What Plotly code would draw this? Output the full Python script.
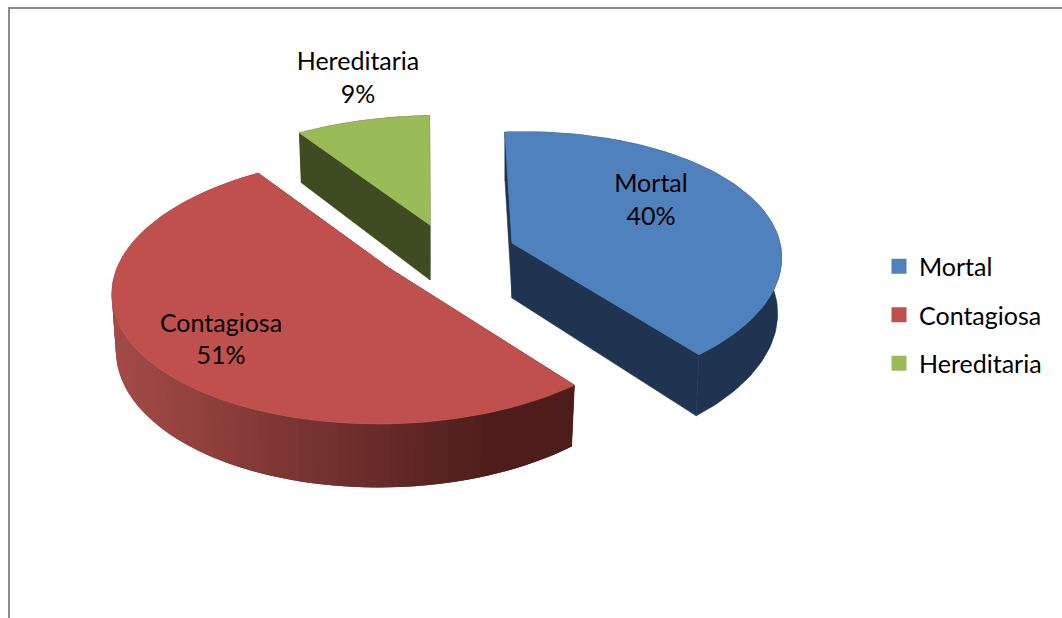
import numpy as np
import plotly.graph_objects as go

# ---- data ----
categories = ["Mortal", "Contagiosa", "Hereditaria"]
values = [40, 51, 9]

# ---- styling / geometry ----
top_colors = ["#4f81bd", "#c0504d", "#9bbb59"]
wall_colors = ["#1f3450", None, "#3f4b20"]
red_wall_light = (163, 74, 71)
red_wall_dark = (77, 29, 27)
centers = [(512, 243), (389, 268), (430, 225)]
scales = [1.0, 1.015, 0.985]
x_scales = [1.0, 1.0, 1.04]
rotations = [-3.0, -1.0, -1.0]
shears = [-0.10, -0.07, -0.09]
label_pos = [(651, 202), (221, 341.5), (358, 80)]
START = -1.5
RX, RY, P = 268.0, 129.0, 0.16
DEPTH, KX, KY = 55.0, 0.985, 1.055
FONT = "Lato"
FS = 25


def project(theta, c, sc, shear, xs):
    t = np.radians(theta)
    s = sc / (1 + P * np.cos(t))
    dy = -RY * np.cos(t) * s
    return c[0] + xs * RX * np.sin(t) * s + shear * dy, c[1] + dy


def drop(x, y, c):
    return c[0] + KX * (x - c[0]), c[1] + DEPTH + KY * (y - c[1])


def poly(fig, xs, ys, color, width=0.0):
    xs = list(xs) + [xs[0]]
    ys = list(ys) + [ys[0]]
    fig.add_trace(go.Scatter(x=xs, y=ys, mode="lines", fill="toself", fillcolor=color,
                             line=dict(color=color, width=width), hoverinfo="skip",
                             showlegend=False))


fig = go.Figure()
total = float(sum(values))
angles = np.cumsum([0] + values) / total * 360 + START

for i, cat in enumerate(categories):
    a0, a1 = angles[i] + rotations[i], angles[i + 1] + rotations[i]
    c, sc = centers[i], scales[i]
    th = np.linspace(a0, a1, max(int((a1 - a0) / 1.5), 8))
    px, py = project(th, c, sc, shears[i], x_scales[i])
    bx, by = drop(px, py, c)
    cbx, cby = drop(c[0], c[1], c)
    base = wall_colors[i]
    # flat cut faces
    cut = base if base else "#%02x%02x%02x" % red_wall_dark
    poly(fig, [c[0], px[0], bx[0], cbx], [c[1], py[0], by[0], cby], cut, 0.6)
    poly(fig, [c[0], px[-1], bx[-1], cbx], [c[1], py[-1], by[-1], cby], cut, 0.6)
    # outer wall: one band per colour step, each overlapping the one painted before it
    if base:
        poly(fig, list(px) + list(bx[::-1]), list(py) + list(by[::-1]), base, 0.6)
    else:
        for j in range(0, len(th) - 1):
            k = max(j - 1, 0)
            f = np.clip((px[j] - 115) / (490 - 115), 0, 1)
            rgb = [round(l + (d - l) * f) for l, d in zip(red_wall_light, red_wall_dark)]
            col = "rgb(%d,%d,%d)" % tuple(rgb)
            poly(fig, [px[k], px[j + 1], bx[j + 1], bx[k]],
                 [py[k], py[j + 1], by[j + 1], by[k]], col)
    # top face
    poly(fig, [c[0]] + list(px), [c[1]] + list(py), top_colors[i], 0.8)

# data labels
for i, cat in enumerate(categories):
    pct = round(values[i] / total * 100)
    fig.add_trace(go.Scatter(x=[label_pos[i][0]], y=[label_pos[i][1]], mode="text",
                             text=[f"{cat}<br>{pct}%"], textposition="middle center",
                             textfont=dict(family=FONT, size=FS, color="#000000"),
                             hoverinfo="skip", showlegend=False))

# legend entries
for i, cat in enumerate(categories):
    fig.add_trace(go.Scatter(x=[None], y=[None], mode="markers", name=cat, legendgroup=cat,
                             marker=dict(symbol="square", size=15, color=top_colors[i])))

fig.update_layout(
    width=1062, height=618, margin=dict(l=0, r=0, t=0, b=0),
    paper_bgcolor="white", plot_bgcolor="white",
    xaxis=dict(range=[0, 1062], visible=False, fixedrange=True),
    yaxis=dict(range=[618, 0], visible=False, fixedrange=True),
    legend=dict(x=879 / 1062, y=1 - 243.5 / 618, xanchor="left", yanchor="top",
                font=dict(family=FONT, size=FS, color="#000000"), tracegroupgap=13,
                bgcolor="rgba(0,0,0,0)"),
    shapes=[
        dict(type="line", xref="x", yref="y", x0=9, x1=9, y0=8, y1=618,
             line=dict(color="#8c8c8c", width=2)),
        dict(type="line", xref="x", yref="y", x0=8, x1=1062, y0=8, y1=8,
             line=dict(color="#8c8c8c", width=2)),
    ],
)
fig.write_html("out.html", config={"displayModeBar": False},
               post_script="document.body.style.margin='0';document.body.style.overflow='hidden';")
